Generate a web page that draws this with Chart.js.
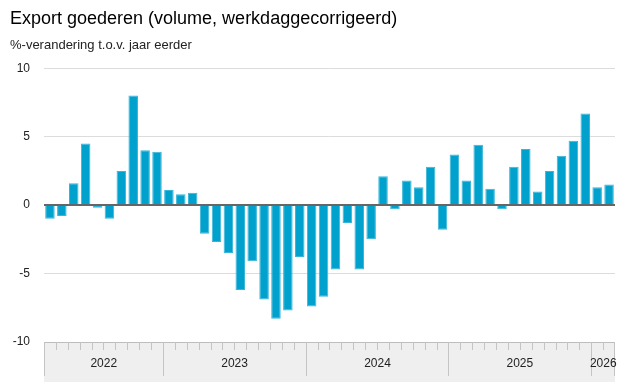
<!DOCTYPE html>
<html>
<head>
<meta charset="utf-8">
<script src="https://cdn.jsdelivr.net/npm/chart.js@4.4.1/dist/chart.umd.min.js"></script>
<style>
    body { margin: 0; background: #fff; }
    #wrap { width: 625px; height: 382px; }
</style>
</head>
<body>
<div id="wrap"><canvas id="exportChart" width="625" height="382"></canvas></div>
<script>
// Months (mrt 2022 - feb 2026)
const months = [
    '2022 mrt', '2022 apr', '2022 mei', '2022 jun', '2022 jul', '2022 aug', '2022 sep', '2022 okt', '2022 nov', '2022 dec',
    '2023 jan', '2023 feb', '2023 mrt', '2023 apr', '2023 mei', '2023 jun', '2023 jul', '2023 aug', '2023 sep', '2023 okt', '2023 nov', '2023 dec',
    '2024 jan', '2024 feb', '2024 mrt', '2024 apr', '2024 mei', '2024 jun', '2024 jul', '2024 aug', '2024 sep', '2024 okt', '2024 nov', '2024 dec',
    '2025 jan', '2025 feb', '2025 mrt', '2025 apr', '2025 mei', '2025 jun', '2025 jul', '2025 aug', '2025 sep', '2025 okt', '2025 nov', '2025 dec',
    '2026 jan', '2026 feb'
];

// %-verandering t.o.v. jaar eerder
const exportChange = [
    -1.0, -0.8, 1.6, 4.5, -0.2, -1.0, 2.5, 8.0, 4.0, 3.9,
    1.1, 0.8, 0.9, -2.1, -2.7, -3.5, -6.2, -4.1, -6.9, -8.3, -7.7, -3.8,
    -7.4, -6.7, -4.7, -1.3, -4.7, -2.5, 2.1, -0.3, 1.8, 1.3, 2.8, -1.8,
    3.7, 1.8, 4.4, 1.2, -0.3, 2.8, 4.1, 1.0, 2.5, 3.6, 4.7, 6.7,
    1.3, 1.5
];

const yTicks = [-10, -5, 0, 5, 10];

const FONT = "'Liberation Sans', Arial, sans-serif";

// grey band below the chart with month ticks and year labels
const timeBand = {
    id: 'timeBand',
    afterDraw(chart) {
        const ctx = chart.ctx;
        const x = chart.scales.x;
        const top = x.top;
        const step = x.getPixelForValue(1) - x.getPixelForValue(0);

        ctx.save();
        ctx.fillStyle = '#efefef';
        ctx.fillRect(x.left, top, x.right - x.left, 40);
        ctx.strokeStyle = '#bdbdbd';
        ctx.lineWidth = 1;
        ctx.beginPath();
        ctx.moveTo(x.left, top + 0.5);
        ctx.lineTo(x.right, top + 0.5);
        ctx.stroke();

        // ticks
        const years = {};
        months.forEach((m, i) => {
            const edge = Math.round(x.getPixelForValue(i) - step / 2) + 0.5;
            const yr = m.slice(0, 4);
            const isStart = i === 0 || yr !== months[i - 1].slice(0, 4);
            ctx.strokeStyle = '#c4c4c4';
            ctx.beginPath();
            ctx.moveTo(edge, top);
            ctx.lineTo(edge, top + (isStart ? 34 : 8));
            ctx.stroke();
            if (!years[yr]) years[yr] = { from: edge, to: edge };
            years[yr].to = x.getPixelForValue(i) + step / 2;
        });
        ctx.beginPath();
        ctx.moveTo(Math.round(x.right) - 0.5, top);
        ctx.lineTo(Math.round(x.right) - 0.5, top + 34);
        ctx.stroke();

        // year labels
        ctx.fillStyle = '#222';
        ctx.font = '12px ' + FONT;
        ctx.textAlign = 'center';
        ctx.textBaseline = 'middle';
        Object.keys(years).forEach(yr => {
            const r = years[yr];
            ctx.fillText(yr, (r.from + r.to) / 2, top + 22);
        });
        ctx.restore();
    },
    afterDatasetsDraw(chart) {
        // zero line on top of the bars
        const ctx = chart.ctx;
        const y0 = Math.round(chart.scales.y.getPixelForValue(0));
        ctx.save();
        ctx.strokeStyle = '#666';
        ctx.lineWidth = 2;
        ctx.beginPath();
        ctx.moveTo(chart.chartArea.left, y0);
        ctx.lineTo(chart.chartArea.right, y0);
        ctx.stroke();
        ctx.restore();
    }
};

const ctx = document.getElementById('exportChart').getContext('2d');
new Chart(ctx, {
    type: 'bar',
    data: {
        labels: months,
        datasets: [{
            data: exportChange,
            backgroundColor: '#00a1cd',
            borderColor: '#38b5d8',
            borderWidth: 1,
            barPercentage: 0.8,
            categoryPercentage: 1.0
        }]
    },
    options: {
        responsive: false,
        devicePixelRatio: 1,
        animation: false,
        layout: { padding: { left: 10, right: 10, top: 0, bottom: 0 } },
        plugins: {
            legend: { display: false },
            tooltip: { enabled: false },
            title: {
                display: true,
                text: 'Export goederen (volume, werkdaggecorrigeerd)',
                align: 'start',
                color: '#000',
                font: { family: FONT, size: 18, weight: 'normal' },
                padding: { top: 8, bottom: 8 }
            },
            subtitle: {
                display: true,
                text: '%-verandering t.o.v. jaar eerder',
                align: 'start',
                color: '#222',
                font: { family: FONT, size: 13, weight: 'normal' },
                padding: { top: 0, bottom: 15 }
            }
        },
        scales: {
            x: {
                grid: { display: false },
                border: { display: false },
                ticks: { display: false },
                afterFit: scale => { scale.height = 40; }
            },
            y: {
                min: -10,
                max: 10,
                afterBuildTicks: scale => { scale.ticks = yTicks.map(v => ({ value: v })); },
                afterFit: scale => { scale.width = 34; },
                grid: {
                    color: '#dcdcdc',
                    drawTicks: false
                },
                border: { display: false },
                ticks: {
                    padding: 14,
                    color: '#222',
                    font: { family: FONT, size: 12 }
                }
            }
        }
    },
    plugins: [timeBand]
});
</script>
</body>
</html>
